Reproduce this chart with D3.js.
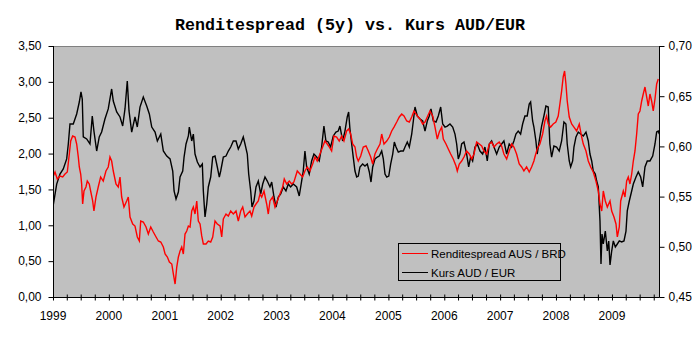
<!DOCTYPE html>
<html><head><meta charset="utf-8">
<script src="https://cdn.jsdelivr.net/npm/d3@7"></script>
<style>
html,body{margin:0;padding:0;background:#fff;}
svg{display:block;}
</style></head>
<body>
<svg id="chart" width="696" height="341"></svg>
<script>
const title = "Renditespread (5y) vs. Kurs AUD/EUR";
const yearLabels = ["1999","2000","2001","2002","2003","2004","2005","2006","2007","2008","2009"];
const leftTicks = [0,0.5,1,1.5,2,2.5,3,3.5];
const rightTicks = [0.45,0.50,0.55,0.60,0.65,0.70];
const seriesNames = ["Renditespread AUS / BRD","Kurs AUD / EUR"];

// Renditespread AUS/BRD (left axis), time as decimal year
const spreadT = [1999.00,1999.036,1999.077,1999.125,1999.174,1999.215,1999.256,1999.292,1999.317,1999.352,1999.394,1999.424,1999.453,1999.471,1999.496,1999.513,1999.531,1999.555,1999.590,1999.614,1999.649,1999.674,1999.710,1999.733,1999.769,1999.810,1999.853,1999.900,1999.948,1999.989,2000.020,2000.050,2000.079,2000.127,2000.168,2000.199,2000.229,2000.270,2000.318,2000.347,2000.378,2000.426,2000.467,2000.508,2000.544,2000.569,2000.615,2000.664,2000.705,2000.748,2000.794,2000.843,2000.884,2000.927,2000.973,2001.004,2001.045,2001.081,2001.124,2001.152,2001.183,2001.213,2001.242,2001.272,2001.302,2001.331,2001.361,2001.392,2001.421,2001.451,2001.481,2001.510,2001.540,2001.571,2001.599,2001.630,2001.660,2001.689,2001.737,2001.778,2001.821,2001.857,2001.898,2001.939,2001.988,2002.018,2002.047,2002.095,2002.136,2002.179,2002.226,2002.274,2002.315,2002.358,2002.394,2002.435,2002.476,2002.524,2002.555,2002.596,2002.632,2002.673,2002.703,2002.734,2002.775,2002.823,2002.852,2002.882,2002.930,2002.972,2003.013,2003.061,2003.109,2003.138,2003.181,2003.227,2003.270,2003.311,2003.371,2003.419,2003.467,2003.508,2003.550,2003.598,2003.646,2003.687,2003.728,2003.777,2003.825,2003.866,2003.907,2003.943,2003.986,2004.027,2004.075,2004.122,2004.165,2004.206,2004.254,2004.290,2004.326,2004.362,2004.403,2004.433,2004.462,2004.505,2004.551,2004.600,2004.641,2004.684,2004.719,2004.760,2004.802,2004.850,2004.880,2004.921,2004.970,2005.016,2005.059,2005.100,2005.149,2005.195,2005.238,2005.279,2005.328,2005.374,2005.417,2005.458,2005.517,2005.566,2005.614,2005.655,2005.696,2005.744,2005.793,2005.834,2005.875,2005.911,2005.954,2005.983,2006.031,2006.072,2006.115,2006.161,2006.210,2006.233,2006.269,2006.312,2006.353,2006.401,2006.448,2006.491,2006.532,2006.580,2006.627,2006.670,2006.711,2006.759,2006.806,2006.848,2006.890,2006.938,2006.984,2007.027,2007.068,2007.117,2007.163,2007.206,2007.247,2007.295,2007.342,2007.385,2007.426,2007.474,2007.521,2007.564,2007.605,2007.623,2007.664,2007.712,2007.761,2007.802,2007.832,2007.861,2007.904,2007.950,2007.998,2008.040,2008.070,2008.101,2008.129,2008.154,2008.178,2008.201,2008.237,2008.280,2008.321,2008.369,2008.416,2008.459,2008.488,2008.536,2008.577,2008.620,2008.666,2008.714,2008.756,2008.786,2008.817,2008.845,2008.881,2008.917,2008.965,2008.995,2009.036,2009.072,2009.096,2009.131,2009.156,2009.203,2009.233,2009.263,2009.292,2009.322,2009.353,2009.382,2009.412,2009.442,2009.471,2009.501,2009.532,2009.560,2009.591,2009.621,2009.650,2009.680,2009.710,2009.739,2009.770,2009.800,2009.829];
const spreadV = [1.673,1.743,1.645,1.687,1.673,1.715,1.743,1.994,2.175,2.245,2.231,2.133,1.952,1.813,1.715,1.576,1.297,1.478,1.534,1.617,1.576,1.478,1.339,1.199,1.394,1.534,1.673,1.617,1.757,1.813,1.952,1.896,1.757,1.576,1.534,1.673,1.394,1.255,1.339,1.394,1.116,1.018,0.990,0.837,0.781,1.060,1.046,0.976,0.878,0.976,0.906,0.837,0.781,0.767,0.697,0.600,0.558,0.488,0.460,0.321,0.181,0.418,0.558,0.641,0.697,0.600,0.878,0.920,0.990,0.976,1.199,1.255,1.157,1.339,1.060,1.018,0.851,0.739,0.739,0.781,0.767,0.837,1.060,1.018,0.990,0.837,1.088,1.157,1.129,1.199,1.157,1.199,1.060,1.199,1.255,1.116,1.157,1.199,1.129,1.255,1.297,1.339,1.436,1.394,1.478,1.297,1.157,1.339,1.394,1.255,1.339,1.436,1.534,1.645,1.576,1.617,1.576,1.604,1.757,1.715,1.673,1.757,1.813,1.757,1.855,1.952,1.896,1.994,2.092,2.175,2.133,2.092,2.036,2.245,2.231,2.175,2.245,2.175,2.315,2.343,2.273,2.133,2.092,1.952,1.896,1.966,2.092,2.106,2.036,1.952,1.855,1.994,2.064,2.133,2.273,2.133,2.175,2.231,2.315,2.370,2.440,2.510,2.552,2.524,2.454,2.440,2.510,2.594,2.524,2.482,2.412,2.440,2.510,2.594,2.524,2.370,2.203,2.301,2.370,2.203,2.133,2.064,1.994,1.924,1.827,1.757,1.855,1.896,1.952,2.036,1.994,1.924,1.994,2.161,2.133,2.106,2.036,1.994,2.133,2.161,2.092,2.133,2.161,2.106,1.994,1.924,2.036,2.133,2.092,1.994,1.855,1.813,1.757,1.813,1.743,1.813,1.896,1.952,2.064,2.133,2.273,2.454,2.524,2.412,2.370,2.412,2.440,2.524,2.691,2.872,3.068,3.151,2.970,2.733,2.510,2.412,2.370,2.315,2.412,2.231,2.133,2.036,1.896,1.813,1.743,1.617,1.478,1.297,1.199,1.478,1.339,1.255,1.339,1.199,1.116,1.018,0.837,0.976,1.339,1.478,1.394,1.617,1.673,1.576,1.715,1.896,2.036,2.273,2.552,2.594,2.733,2.831,2.928,2.789,2.663,2.831,2.733,2.594,2.761,2.970,3.040];

// Kurs AUD/EUR (right axis), time as decimal year
const kursT = [1999.00,1999.066,1999.125,1999.184,1999.245,1999.274,1999.304,1999.363,1999.424,1999.471,1999.501,1999.524,1999.542,1999.603,1999.662,1999.703,1999.733,1999.782,1999.828,1999.871,1999.930,1999.989,2000.050,2000.079,2000.140,2000.199,2000.247,2000.288,2000.329,2000.360,2000.408,2000.467,2000.508,2000.556,2000.615,2000.676,2000.723,2000.766,2000.825,2000.866,2000.927,2000.973,2001.034,2001.093,2001.141,2001.165,2001.200,2001.242,2001.272,2001.320,2001.344,2001.379,2001.421,2001.438,2001.481,2001.510,2001.540,2001.582,2001.630,2001.671,2001.689,2001.719,2001.750,2001.778,2001.821,2001.857,2001.898,2001.939,2001.975,2002.000,2002.047,2002.095,2002.136,2002.179,2002.226,2002.274,2002.315,2002.358,2002.404,2002.435,2002.476,2002.501,2002.537,2002.560,2002.596,2002.632,2002.673,2002.716,2002.752,2002.793,2002.834,2002.882,2002.913,2002.954,2002.990,2003.031,2003.074,2003.120,2003.168,2003.210,2003.252,2003.299,2003.360,2003.406,2003.449,2003.478,2003.508,2003.539,2003.585,2003.628,2003.669,2003.718,2003.764,2003.807,2003.848,2003.884,2003.925,2003.968,2004.015,2004.063,2004.104,2004.134,2004.183,2004.224,2004.265,2004.290,2004.313,2004.344,2004.372,2004.403,2004.433,2004.462,2004.492,2004.540,2004.581,2004.623,2004.659,2004.689,2004.719,2004.760,2004.802,2004.837,2004.880,2004.909,2004.939,2004.970,2005.006,2005.041,2005.077,2005.106,2005.136,2005.177,2005.220,2005.267,2005.297,2005.338,2005.374,2005.417,2005.446,2005.476,2005.517,2005.566,2005.614,2005.655,2005.696,2005.732,2005.762,2005.804,2005.852,2005.893,2005.936,2005.972,2006.013,2006.054,2006.102,2006.151,2006.192,2006.222,2006.251,2006.281,2006.311,2006.353,2006.401,2006.437,2006.472,2006.508,2006.550,2006.591,2006.639,2006.687,2006.728,2006.770,2006.806,2006.848,2006.890,2006.938,2006.984,2007.027,2007.068,2007.117,2007.163,2007.206,2007.247,2007.283,2007.324,2007.367,2007.403,2007.444,2007.485,2007.521,2007.546,2007.582,2007.605,2007.641,2007.664,2007.700,2007.743,2007.784,2007.820,2007.861,2007.891,2007.922,2007.963,2008.011,2008.058,2008.101,2008.142,2008.178,2008.201,2008.237,2008.262,2008.298,2008.321,2008.357,2008.398,2008.441,2008.488,2008.536,2008.577,2008.607,2008.638,2008.666,2008.702,2008.727,2008.756,2008.786,2008.804,2008.822,2008.845,2008.881,2008.917,2008.942,2008.965,2008.995,2009.024,2009.060,2009.096,2009.131,2009.174,2009.215,2009.251,2009.274,2009.310,2009.353,2009.382,2009.430,2009.471,2009.514,2009.550,2009.591,2009.632,2009.680,2009.729,2009.770,2009.800,2009.829,2009.847];
const kursV = [0.540,0.5625,0.5725,0.5775,0.5875,0.6024,0.6223,0.6223,0.6323,0.6442,0.6542,0.6472,0.6094,0.6074,0.6024,0.6303,0.6153,0.5954,0.6094,0.6143,0.6273,0.6373,0.6572,0.6452,0.6343,0.6293,0.6203,0.6373,0.6651,0.6353,0.6143,0.6293,0.6193,0.6392,0.6492,0.6402,0.6323,0.6193,0.6143,0.6054,0.6123,0.5954,0.5904,0.5875,0.5755,0.5556,0.5476,0.5546,0.5695,0.5755,0.5894,0.6024,0.6104,0.6193,0.6054,0.6123,0.5924,0.5845,0.5795,0.5825,0.5556,0.5297,0.5426,0.5596,0.5695,0.5894,0.5904,0.5795,0.5695,0.5755,0.5894,0.5904,0.5954,0.5994,0.6054,0.6054,0.5974,0.6024,0.6094,0.6024,0.5924,0.5725,0.5556,0.5396,0.5456,0.5596,0.5655,0.5526,0.5625,0.5695,0.5655,0.5596,0.5645,0.5496,0.5396,0.5496,0.5526,0.5596,0.5556,0.5625,0.5596,0.5625,0.5596,0.5506,0.5655,0.5755,0.5954,0.5795,0.5725,0.5855,0.5924,0.5894,0.5855,0.5994,0.6203,0.6054,0.6044,0.5994,0.6104,0.6143,0.6153,0.6203,0.6054,0.6153,0.6293,0.6343,0.6173,0.6024,0.5894,0.5755,0.5695,0.5705,0.5795,0.5825,0.5805,0.5825,0.5745,0.5645,0.5795,0.5875,0.5894,0.5904,0.5954,0.5875,0.5725,0.5695,0.5705,0.5825,0.5924,0.6044,0.5994,0.5944,0.5954,0.5954,0.5994,0.6044,0.5994,0.6123,0.6253,0.6392,0.6303,0.6273,0.6253,0.6153,0.6253,0.6303,0.6373,0.6253,0.6243,0.6303,0.6392,0.6223,0.6193,0.6203,0.6223,0.6193,0.6123,0.6024,0.5875,0.5924,0.6024,0.6044,0.5924,0.5795,0.5894,0.5855,0.5994,0.6024,0.5954,0.5924,0.5994,0.5855,0.6024,0.6054,0.5994,0.5924,0.5994,0.6024,0.6054,0.5924,0.6024,0.5994,0.6054,0.6123,0.6153,0.6123,0.6223,0.6303,0.6303,0.6422,0.6442,0.6253,0.6193,0.6054,0.5924,0.6054,0.6203,0.6303,0.6402,0.6392,0.6024,0.5894,0.6004,0.5994,0.5954,0.6054,0.6243,0.6223,0.6024,0.5855,0.5795,0.5855,0.5994,0.6094,0.6143,0.6123,0.6104,0.6143,0.6054,0.5924,0.5855,0.5755,0.5725,0.5655,0.5596,0.5257,0.483,0.5127,0.5028,0.5157,0.4958,0.5058,0.482,0.4958,0.5058,0.4998,0.5028,0.5058,0.5048,0.5058,0.5157,0.5357,0.5456,0.5556,0.5625,0.5695,0.5745,0.5695,0.5596,0.5795,0.5855,0.5855,0.5904,0.6024,0.6143,0.6153,0.6123];

function decYear(t){
  const y = Math.floor(t);
  const a = Date.UTC(y,0,1), b = Date.UTC(y+1,0,1);
  return new Date(a + (t - y) * (b - a));
}

const spread = spreadT.map((t,i)=>({d:decYear(t), v:spreadV[i]}));
const kurs = kursT.map((t,i)=>({d:decYear(t), v:kursV[i]}));

const M = {left:53, right:659, top:46, bottom:297};
const svg = d3.select("#chart");
const fontAx = "'Liberation Sans', Arial, sans-serif";

const x = d3.scaleUtc().domain([decYear(1999.0), decYear(2009.842)]).range([M.left, M.right]);
const yL = d3.scaleLinear().domain([0,3.5]).range([M.bottom, M.top]);
const yR = d3.scaleLinear().domain([0.45,0.70]).range([M.bottom, M.top]);

// title
svg.append("text").attr("x",350).attr("y",30).attr("text-anchor","middle")
  .attr("font-family","'Liberation Mono','Courier New',monospace").attr("font-weight","bold")
  .attr("font-size","16.5px").attr("textLength",350).attr("lengthAdjust","spacingAndGlyphs")
  .attr("fill","#000").text(title);

// plot background
svg.append("rect").attr("x",M.left).attr("y",M.top).attr("width",M.right-M.left).attr("height",M.bottom-M.top)
  .attr("fill","#c0c0c0");
svg.append("line").attr("x1",M.left).attr("x2",M.right).attr("y1",M.top+0.5).attr("y2",M.top+0.5)
  .attr("stroke","#808080").attr("stroke-width",1);

// lines
const clip = svg.append("clipPath").attr("id","clip").append("rect")
  .attr("x",M.left).attr("y",M.top).attr("width",M.right-M.left).attr("height",M.bottom-M.top);
const lineL = d3.line().x(d=>x(d.d)).y(d=>yL(d.v));
const lineR = d3.line().x(d=>x(d.d)).y(d=>yR(d.v));
const g = svg.append("g").attr("clip-path","url(#clip)");
g.append("path").datum(kurs).attr("d",lineR).attr("fill","none").attr("stroke","#000").attr("stroke-width",1.4).attr("stroke-linejoin","miter");
g.append("path").datum(spread).attr("d",lineL).attr("fill","none").attr("stroke","#ff0000").attr("stroke-width",1.4).attr("stroke-linejoin","miter");

// left axis
const fmt = d3.format(".2f");
const comma = v => fmt(v).replace(".", ",");
const axL = svg.append("g").attr("transform",`translate(${M.left+0.5},0)`)
  .call(d3.axisLeft(yL).tickValues(leftTicks).tickSize(5).tickPadding(7).tickFormat(comma));
const axR = svg.append("g").attr("transform",`translate(${M.right+0.5},0)`)
  .call(d3.axisRight(yR).tickValues(rightTicks).tickSize(5).tickPadding(4).tickFormat(comma));
// bottom axis with quarterly crossing ticks
const quarters = d3.utcMonth.every(3).range(decYear(1999.0), decYear(2009.842));
const axB = svg.append("g").attr("transform",`translate(0,${M.bottom+0.5})`)
  .call(d3.axisBottom(x).tickValues(quarters).tickSize(3).tickFormat(""));
axB.selectAll(".tick line").attr("y1",-3).attr("y2",3);
const yearDates = yearLabels.map(s=>new Date(Date.UTC(+s,0,1)));
svg.append("g").selectAll("text").data(yearDates).join("text")
  .attr("x",d=>x(d)).attr("y",320).attr("text-anchor","middle")
  .attr("font-family",fontAx).attr("font-size","12px").attr("fill","#000")
  .text((d,i)=>yearLabels[i]);

[axL,axR,axB].forEach(a=>{
  a.select(".domain").attr("stroke","#000");
  a.selectAll(".tick line").attr("stroke","#000");
  a.selectAll("text").attr("font-family",fontAx).attr("font-size","12px").attr("fill","#000");
});
axL.select(".domain").attr("d",`M0,${M.top}V${M.bottom+0.5}`);
axR.select(".domain").attr("d",`M0,${M.top}V${M.bottom+0.5}`);
axB.select(".domain").attr("d",`M${M.left},0H${M.right+0.5}`);

// legend
const lg = svg.append("g");
lg.append("rect").attr("x",398.5).attr("y",243.5).attr("width",162).attr("height",37)
  .attr("fill","#c0c0c0").attr("stroke","#000").attr("stroke-width",1);
const colors = ["#ff0000","#000"];
seriesNames.forEach((n,i)=>{
  const yy = 253.5 + i*19;
  lg.append("line").attr("x1",402).attr("x2",428).attr("y1",yy).attr("y2",yy).attr("stroke",colors[i]).attr("stroke-width",1);
  lg.append("text").attr("x",431).attr("y",yy+4).attr("font-family",fontAx).attr("font-size","11.5px").attr("fill","#000").text(n);
});
</script>
</body></html>
